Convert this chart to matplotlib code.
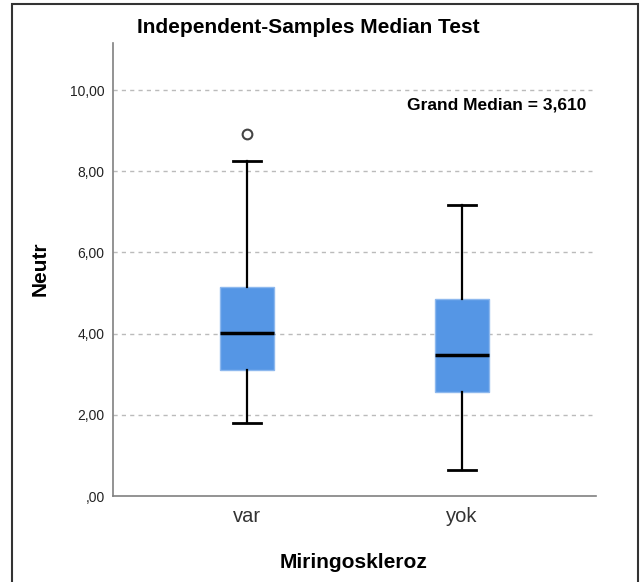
import matplotlib
matplotlib.use("Agg")
import matplotlib.pyplot as plt
from matplotlib.patches import Rectangle

plt.rcParams['font.family'] = ['Liberation Sans', 'DejaVu Sans']

categories = ["var", "yok"]
q1 = [3.10, 2.56]
medians = [4.01, 3.47]
q3 = [5.15, 4.85]
whisker_low = [1.80, 0.64]
whisker_high = [8.25, 7.17]
outliers = [[8.92], []]
grand_median = 3.610
yticks = [0, 2, 4, 6, 8, 10]
ytick_labels = [",00", "2,00", "4,00", "6,00", "8,00", "10,00"]

W, H = 640, 582
fig = plt.figure(figsize=(W / 100, H / 100), dpi=100)
fig.patch.set_facecolor("white")

ax = fig.add_axes([113 / W, 1 - 496 / H, (596 - 113) / W, (496 - 43) / H])

stats = []
for i, c in enumerate(categories):
    stats.append(dict(label=c, q1=q1[i], med=medians[i], q3=q3[i],
                      whislo=whisker_low[i], whishi=whisker_high[i],
                      fliers=outliers[i]))

ax.bxp(stats, positions=[0, 1], widths=0.25, patch_artist=True,
       showfliers=True,
       boxprops=dict(facecolor="#5596E5", edgecolor="#8DB8EE", linewidth=1),
       medianprops=dict(color="black", linewidth=2.5),
       whiskerprops=dict(color="black", linewidth=1.6),
       capprops=dict(color="black", linewidth=2.0),
       capwidths=0.13,
       flierprops=dict(marker="o", markerfacecolor="white", markeredgecolor="#444444",
                       markersize=7, markeredgewidth=1.5))

ax.set_xlim(-0.625, 1.625)
ax.set_ylim(0, (496 - 43) / 40.6)
ax.set_yticks(yticks)
ax.set_yticklabels(ytick_labels, fontsize=10, color="#222222")
ax.set_xticks([0, 1])
ax.set_xticklabels(categories, fontsize=14.5, color="#333333")
ax.tick_params(axis="both", length=0)
ax.tick_params(axis="y", pad=6)
ax.tick_params(axis="x", pad=8)

for y in yticks[1:]:
    ax.axhline(y, xmin=0, xmax=(592 - 113) / (596 - 113), color="#BBBBBB",
               linestyle=(0, (3, 3)), linewidth=1, zorder=0)

for s in ["top", "right"]:
    ax.spines[s].set_visible(False)
for s in ["left", "bottom"]:
    ax.spines[s].set_color("#808080")
    ax.spines[s].set_linewidth(1.2)

ax.text(586 / W, 1 - 109 / H, "Grand Median = 3,610", transform=fig.transFigure,
        ha="right", va="baseline", fontsize=12.5, fontweight="bold")

fig.text(308.5 / W, 1 - 33 / H, "Independent-Samples Median Test", ha="center",
         va="baseline", fontsize=15, fontweight="bold")
fig.text(40 / W, 1 - 269 / H, "Neutr", rotation=90, ha="center", va="center",
         fontsize=15, fontweight="bold")
fig.text(354 / W, 1 - 568 / H, "Miringoskleroz", ha="center", va="baseline",
         fontsize=15, fontweight="bold")

fig.add_artist(Rectangle((12 / W, -0.02), (638 - 12) / W, 1.02 - 4 / H,
                         transform=fig.transFigure, fill=False,
                         edgecolor="#333333", linewidth=1.5))

fig.savefig("out.png", dpi=100)
